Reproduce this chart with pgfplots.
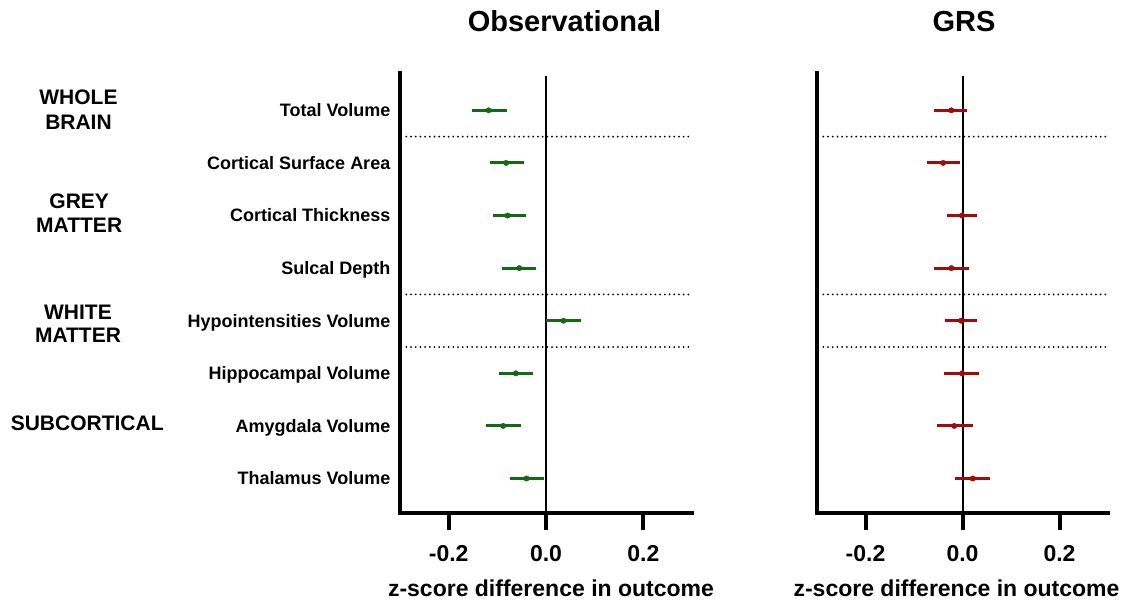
\documentclass[border=0pt]{standalone}
\usepackage{pgfplots}
\pgfplotsset{compat=1.18}
\usepackage{pgfplotstable}
\usepackage{fontspec}
\setmainfont{Liberation Sans}
\definecolor{obsgreen}{RGB}{20,105,20}
\definecolor{grsred}{RGB}{165,10,10}

% y = 9 - row position from top
\pgfplotstableread{
y m lo hi
8 -0.118 -0.152 -0.081
7 -0.082 -0.116 -0.046
6 -0.079 -0.109 -0.042
5 -0.055 -0.090 -0.021
4 0.036 0.000 0.072
3 -0.062 -0.096 -0.027
2 -0.088 -0.123 -0.052
1 -0.040 -0.074 -0.005
}\obs

\pgfplotstableread{
y m lo hi
8 -0.023 -0.058 0.010
7 -0.040 -0.073 -0.006
6 -0.001 -0.032 0.030
5 -0.023 -0.058 0.014
4 -0.003 -0.036 0.030
3 -0.001 -0.038 0.034
2 -0.017 -0.053 0.021
1 0.021 -0.016 0.056
}\grs

\tikzset{sepline/.style={line width=2pt, line cap=round, dash pattern=on 0pt off 4.7pt, black}}

\pgfplotsset{
  forest/.style={
    scale only axis, height=440pt,
    xmin=-0.3, xmax=0.3, ymin=0.345, ymax=8.71,
    axis x line=bottom, axis y line=left,
    axis line style={-, line width=4pt, line cap=rect},
    xtick={-0.2,0,0.2}, xticklabels={-0.2,0.0,0.2},
    xtick align=outside, ytick align=inside, major tick length=17pt,
    x tick style={line width=4pt, black},
    y tick style={draw=none},
    xticklabel style={font=\fontsize{23}{23}\selectfont\bfseries, anchor=base, yshift=-31pt},
    title style={at={(axis description cs:0.5,1)}, anchor=base, yshift=35.3pt, font=\fontsize{29}{29}\selectfont\bfseries},
    xlabel={z-score difference in outcome},
    xlabel style={at={(axis description cs:0.5,0)}, anchor=base, yshift=-83.7pt, font=\fontsize{23}{23}\selectfont\bfseries},
    clip=false,
  },
}

\begin{document}
\begin{tikzpicture}
\useasboundingbox (0,0) rectangle (1134pt,602pt);

% group labels
\begin{scope}[every node/.style={anchor=base, inner sep=0pt, font=\fontsize{21}{21}\selectfont\bfseries}]
\node at (78.5pt,602pt-105pt) {WHOLE};
\node at (78.5pt,602pt-129.3pt) {BRAIN};
\node at (79.2pt,602pt-208.3pt) {GREY};
\node at (79.2pt,602pt-232.7pt) {MATTER};
\node at (78pt,602pt-320pt) {WHITE};
\node at (78pt,602pt-342.3pt) {MATTER};
\node at (87.2pt,602pt-430.7pt) {SUBCORTICAL};
\end{scope}

\begin{axis}[forest, width=292pt, at={(400pt,89pt)}, anchor=south west,
  title={Observational}, title style={xshift=18.5pt}, xlabel style={xshift=5pt},
  ytick={1,2,3,4,5,6,7,8},
  yticklabels={Thalamus Volume, Amygdala Volume, Hippocampal Volume, Hypointensities Volume, Sulcal Depth, Cortical Thickness, Cortical Surface Area, Total Volume},
  yticklabel style={font=\fontsize{18}{18}\selectfont\bfseries, anchor=base east, inner sep=0pt, xshift=-9.5pt, yshift=-6.4pt},
]
\draw[line width=2pt] (axis cs:0,0.345) -- (axis cs:0,8.66);
\draw[sepline] (axis cs:-0.287,7.5) -- (axis cs:0.3,7.5);
\draw[sepline] (axis cs:-0.287,4.5) -- (axis cs:0.3,4.5);
\draw[sepline] (axis cs:-0.287,3.5) -- (axis cs:0.3,3.5);
\addplot[draw=none, mark=*, mark size=2.7pt, color=obsgreen,
  error bars/.cd, x dir=both, x explicit, error mark=none,
  error bar style={line width=3pt, obsgreen}]
  table[x=m, y=y, x error plus expr=\thisrow{hi}-\thisrow{m}, x error minus expr=\thisrow{m}-\thisrow{lo}] {\obs};
\end{axis}

\begin{axis}[forest, width=291pt, at={(817pt,89pt)}, anchor=south west,
  title={GRS}, title style={xshift=1.5pt}, xlabel style={xshift=-6pt},
  ytick=\empty,
]
\draw[line width=2pt] (axis cs:0,0.345) -- (axis cs:0,8.66);
\draw[sepline] (axis cs:-0.287,7.5) -- (axis cs:0.3,7.5);
\draw[sepline] (axis cs:-0.287,4.5) -- (axis cs:0.3,4.5);
\draw[sepline] (axis cs:-0.287,3.5) -- (axis cs:0.3,3.5);
\addplot[draw=none, mark=*, mark size=2.7pt, color=grsred,
  error bars/.cd, x dir=both, x explicit, error mark=none,
  error bar style={line width=3pt, grsred}]
  table[x=m, y=y, x error plus expr=\thisrow{hi}-\thisrow{m}, x error minus expr=\thisrow{m}-\thisrow{lo}] {\grs};
\end{axis}
\end{tikzpicture}
\end{document}
